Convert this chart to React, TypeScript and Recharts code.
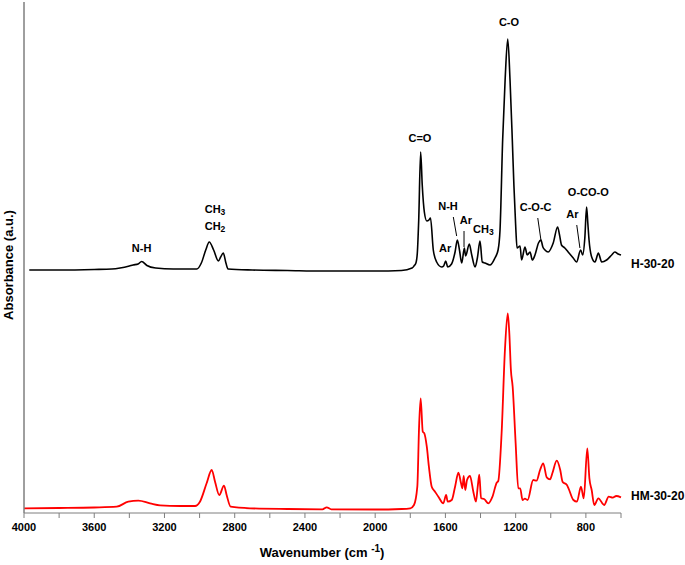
import React from 'react';
import { LineChart, Line, XAxis, YAxis, ReferenceDot, ReferenceLine } from 'recharts';

// H-30-20 spectrum (wavenumber cm-1, absorbance a.u., offset upward)
const H_WAVENUMBER = [3970, 3800, 3600, 3500, 3453, 3400, 3379, 3350, 3330, 3300, 3250, 3150, 3050, 3016, 2990, 2965, 2945, 2920, 2893, 2880, 2865, 2850, 2838, 2700, 2500, 2300, 2000, 1850, 1790, 1779, 1768, 1760, 1752, 1741, 1732, 1720, 1706, 1694, 1685, 1669, 1650, 1621, 1610, 1598, 1587, 1565, 1545, 1532, 1520, 1507, 1492, 1485, 1464, 1450, 1431, 1418, 1403, 1390, 1375, 1346, 1318, 1300, 1289, 1274, 1260, 1245, 1232, 1219, 1210, 1200, 1192, 1175, 1166, 1147, 1134, 1118, 1105, 1090, 1070, 1056, 1045, 1033, 1015, 986, 961, 950, 939, 920, 901, 872, 853, 830, 818, 806, 796, 789, 782, 767, 748, 729, 710, 682, 653, 635, 616, 600];
const H_ABSORBANCE = [243, 243, 243.5, 244, 245, 247, 248, 249, 251.5, 247.5, 245, 244, 244, 244, 250, 263, 271, 263, 252, 256, 260, 250, 244, 243, 242.5, 242, 242, 242.5, 245, 247, 250, 260, 293, 361, 328, 301, 292, 293, 295, 263, 251, 246, 247, 252, 246, 249, 261, 273, 263, 250, 265, 257, 269, 258, 246, 255, 272, 251, 250, 248, 255, 263, 283, 373, 433, 474, 433, 373, 328, 288, 265, 267, 253, 266, 258, 261, 253, 258, 270, 273, 266, 263, 261, 270, 286, 278, 268, 265, 261, 255, 251, 263, 258, 275, 306, 290, 273, 256, 251, 260, 251, 253, 258, 261, 259, 258];

// HM-30-20 spectrum
const HM_WAVENUMBER = [4000, 3800, 3600, 3472, 3406, 3349, 3282, 3225, 3112, 3026, 2998, 2960, 2931, 2912, 2888, 2861, 2846, 2823, 2713, 2500, 2300, 2276, 2250, 2000, 1850, 1800, 1779, 1760, 1750, 1741, 1729, 1720, 1706, 1694, 1678, 1659, 1640, 1612, 1596, 1587, 1564, 1545, 1526, 1511, 1503, 1496, 1487, 1477, 1460, 1441, 1426, 1416, 1407, 1397, 1380, 1355, 1332, 1308, 1299, 1280, 1261, 1245, 1236, 1227, 1217, 1200, 1185, 1174, 1161, 1147, 1132, 1100, 1081, 1061, 1043, 1023, 1004, 991, 966, 946, 933, 908, 899, 871, 851, 828, 812, 792, 780, 767, 752, 729, 696, 670, 647, 627, 600];
const HM_ABSORBANCE = [4.7, 5, 5.5, 6.3, 11.3, 12.3, 9.7, 7.7, 7, 7, 11.3, 29.7, 43, 31.3, 18, 27.3, 18, 6.3, 4.7, 4, 3.7, 5.7, 3.7, 3.5, 4, 4.7, 8, 26.3, 86.3, 114.7, 81.3, 79.7, 66.3, 46.3, 26.3, 21.3, 16.3, 9.7, 18, 11.3, 13, 26.3, 40.3, 29.7, 24.7, 37, 23, 33, 37, 21.3, 11.3, 26.3, 38.3, 14.7, 14, 9.7, 16.3, 30.3, 32, 79.7, 163, 199.7, 179.7, 143, 126.3, 69.7, 24.7, 24.7, 13, 14.3, 13, 33, 32.3, 43, 49.7, 35.7, 33.7, 39.7, 52.3, 43, 31.3, 28, 24.7, 13, 11.3, 26.3, 14.7, 64.7, 34.7, 23, 8, 14.7, 8, 16.3, 15.3, 17, 15.7];

const X_TICKS = [4000, 3800, 3600, 3400, 3200, 3000, 2800, 2600, 2400, 2200, 2000, 1800, 1600, 1400, 1200, 1000, 800, 600];

// band assignments: [label, wavenumber, absorbance]
const BAND_LABELS: [string, number, number][] = [
  ['N-H', 3330, 265],
  ['CH3', 2912, 304],
  ['CH2', 2912, 287],
  ['C=O', 1745, 375],
  ['N-H', 1585, 307],
  ['Ar', 1483, 293],
  ['CH3', 1384, 284],
  ['Ar', 1602, 265],
  ['C-O', 1238, 491],
  ['C-O-C', 1086, 306],
  ['Ar', 877, 299],
  ['O-CO-O', 786, 321],
];

// leader lines: [x1, y1, x2, y2]
const LEADERS: [number, number, number, number][] = [
  [1555, 296, 1536, 277],
  [1494, 282, 1494, 266],
  [1074, 295, 1056, 273],
  [852, 288, 834, 265],
];

const SERIES_NAMES: [string, number][] = [
  ['H-30-20', 249],
  ['HM-30-20', 17],
];

const hData = H_WAVENUMBER.map((wn, i) => ({ wn, abs: H_ABSORBANCE[i] }));
const hmData = HM_WAVENUMBER.map((wn, i) => ({ wn, abs: HM_ABSORBANCE[i] }));

const FONT = '"Liberation Sans", Arial, sans-serif';
const AXIS_GRAY = '#7f7f7f';

function bandText(label: string) {
  return (p: any) => {
    const m = label.match(/^(CH)(\d)$/);
    return (
      <text x={p.cx} y={p.cy} textAnchor="middle" dominantBaseline="central" fontFamily={FONT} fontSize={11} fontWeight="bold" fill="#000">
        {m ? (
          <>
            {m[1]}
            <tspan fontSize={8.5} dy={3}>{m[2]}</tspan>
          </>
        ) : label}
      </text>
    );
  };
}

function seriesText(label: string) {
  return (p: any) => (
    <text x={p.cx + 10} y={p.cy} dominantBaseline="central" fontFamily={FONT} fontSize={12} fontWeight="bold" fill="#000">
      {label}
    </text>
  );
}

export default function App() {
  return (
    <div style={{ position: 'absolute', left: 0, top: 0, width: 685, height: 565, background: '#fff', fontFamily: FONT }}>
      <LineChart width={685} height={565} margin={{ top: 2, right: 64, left: 23, bottom: 22 }}>
        <XAxis
          type="number"
          dataKey="wn"
          domain={[600, 4000]}
          reversed
          ticks={X_TICKS}
          interval={0}
          height={30}
          tickSize={5}
          tickMargin={5}
          tickFormatter={(v: number) => ((4000 - v) % 400 === 0 && v >= 800 ? String(v) : '')}
          tick={{ fill: '#000', fontSize: 11, fontWeight: 'bold', fontFamily: FONT }}
          axisLine={{ stroke: AXIS_GRAY }}
          tickLine={{ stroke: AXIS_GRAY }}
        />
        <YAxis type="number" domain={[0, 511]} width={1} tick={false} tickLine={false} axisLine={{ stroke: AXIS_GRAY }} />
        <Line data={hData} dataKey="abs" type="monotone" stroke="#000" strokeWidth={1.6} dot={false} isAnimationActive={false} />
        <Line data={hmData} dataKey="abs" type="monotone" stroke="#ff0000" strokeWidth={1.8} dot={false} isAnimationActive={false} />
        <ReferenceLine x={4000} stroke={AXIS_GRAY} strokeWidth={1} ifOverflow="visible" />
        {LEADERS.map(([x1, y1, x2, y2], i) => (
          <ReferenceLine key={'l' + i} segment={[{ x: x1, y: y1 }, { x: x2, y: y2 }]} stroke="#000" strokeWidth={1} ifOverflow="visible" />
        ))}
        {BAND_LABELS.map(([label, wn, a], i) => (
          <ReferenceDot key={'b' + i} x={wn} y={a} r={0} ifOverflow="visible" shape={bandText(label)} />
        ))}
        {SERIES_NAMES.map(([label, a]) => (
          <ReferenceDot key={label} x={600} y={a} r={0} ifOverflow="visible" shape={seriesText(label)} />
        ))}
      </LineChart>
      <svg width={685} height={565} style={{ position: 'absolute', left: 0, top: 0, pointerEvents: 'none' }}>
        <text x={322} y={557} textAnchor="middle" fontFamily={FONT} fontSize={13} fontWeight="bold" fill="#000">
          Wavenumber (cm <tspan fontSize={10} dy={-5}>-1</tspan><tspan dy={5}>)</tspan>
        </text>
        <text transform="translate(13,265) rotate(-90)" textAnchor="middle" fontFamily={FONT} fontSize={13} fontWeight="bold" fill="#000">
          Absorbance (a.u.)
        </text>
      </svg>
    </div>
  );
}
